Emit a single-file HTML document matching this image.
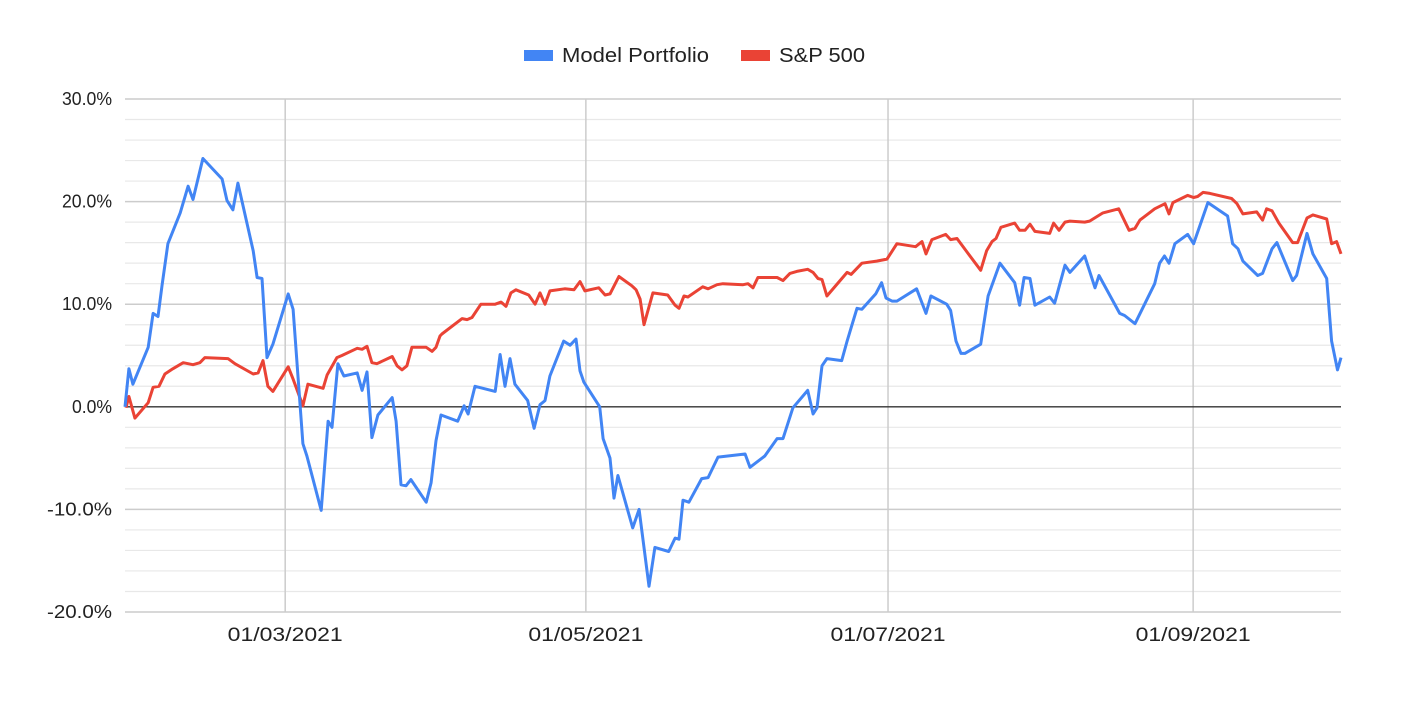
<!DOCTYPE html>
<html><head><meta charset="utf-8"><style>
html,body{margin:0;padding:0;background:#fff;}
svg{display:block;font-family:"Liberation Sans",Arial,sans-serif;}
</style></head><body>
<svg id="chart" width="1410" height="705" viewBox="0 0 1410 705">
<g id="grid"></g>
<g id="yaxis"></g>
<g id="xaxis"></g>
<g id="series"></g>
<g>
 <g>
  <rect x="524" y="50" width="29" height="11" fill="#4285f4"/>
  <text x="562" y="62" font-size="20" fill="#222" textLength="147" lengthAdjust="spacingAndGlyphs">Model Portfolio</text>
 </g>
 <g>
  <rect x="741" y="50" width="29" height="11" fill="#ea4335"/>
  <text x="779" y="62" font-size="20" fill="#222" textLength="86" lengthAdjust="spacingAndGlyphs">S&amp;P 500</text>
 </g>
</g>
</svg>
<script>
// Day offsets from 28/01/2021 and % returns
const modelDays=[0,0.8,1.6,4.7,5.7,6.7,7.5,8.7,11.2,12.8,13.8,15.8,19.7,20.7,21.9,22.9,26.0,26.8,27.8,28.8,30.0,33.1,34.1,36.1,36.9,39.8,41.2,42.0,43.2,44.4,47.1,48.1,49.1,50.1,51.3,54.2,55.0,56.0,57.0,58.0,61.1,62.1,63.1,64.1,67.5,68.8,69.6,71.0,75.1,76.1,77.1,78.1,79.1,81.7,83.0,84.2,85.2,86.2,89.0,90.3,91.5,92.3,93.1,96.3,97.0,98.4,99.2,100.0,103.0,104.3,106.3,107.5,110.3,111.6,112.4,113.2,114.4,117.0,118.3,120.3,125.8,126.8,129.8,132.3,133.5,135.5,138.5,139.6,140.4,141.4,142.4,145.4,146.5,147.3,148.5,149.5,152.3,153.5,154.4,155.6,156.6,160.6,162.5,163.5,166.7,167.5,168.6,169.6,170.4,173.6,175.1,177.5,180.5,181.5,182.4,183.6,184.6,187.6,188.6,190.7,191.7,194.7,196.8,197.6,201.8,202.8,204.9,208.9,209.9,210.9,211.8,213.0,215.6,216.8,219.7,223.7,224.7,225.8,226.8,229.8,230.8,232.7,233.7,236.9,237.7,239.8,241.0,243.8,244.8,246.0,246.7];
const modelValues=[0,3.7,2.2,5.8,9.1,8.8,11.8,15.9,18.9,21.5,20.2,24.2,22.2,20.1,19.2,21.8,15.2,12.6,12.5,4.8,6.1,11.0,9.5,-3.6,-4.8,-10.1,-1.4,-2.0,4.2,3.0,3.3,1.6,3.4,-3.0,-0.8,0.9,-1.4,-7.6,-7.7,-7.1,-9.3,-7.4,-3.3,-0.8,-1.4,0.1,-0.7,2.0,1.5,5.1,2.0,4.7,2.2,0.6,-2.1,0.2,0.6,3.0,6.4,6.0,6.6,3.5,2.4,0.0,-3.1,-5.0,-8.9,-6.7,-11.8,-10.0,-17.5,-13.7,-14.1,-12.8,-12.9,-9.1,-9.3,-7.0,-6.9,-4.9,-4.6,-5.9,-4.8,-3.1,-3.1,-0.1,1.6,-0.7,-0.1,4.0,4.7,4.5,6.4,7.7,9.6,9.5,11.0,12.1,10.6,10.3,10.3,11.5,9.1,10.8,10.0,9.4,6.4,5.2,5.2,6.1,10.8,14.0,12.1,9.9,12.6,12.5,9.9,10.7,10.1,13.8,13.1,14.7,11.6,12.8,9.1,8.9,8.1,12.0,14.0,14.7,14.0,15.9,16.8,15.9,19.9,18.6,15.9,15.4,14.2,12.8,13.0,15.4,16.0,12.3,12.8,16.9,14.9,12.5,6.4,3.6,4.8];
const spDays=[0.2,0.8,2.0,4.7,5.7,6.9,8.1,9.7,11.8,13.8,15.2,16.2,20.9,22.3,26.0,27.0,28.0,29.0,30.0,33.1,34.1,36.1,37.1,40.2,41.0,43.0,44.0,47.1,48.1,49.1,50.1,51.1,54.2,55.2,56.2,57.2,58.2,61.1,62.3,63.1,63.9,64.3,68.4,69.4,70.4,72.2,75.1,76.3,77.3,78.3,79.3,81.9,83.2,84.2,85.2,86.2,89.2,91.1,92.3,93.3,96.1,97.4,98.4,100.2,102.8,103.7,104.5,105.3,107.1,110.1,111.6,112.4,113.4,114.2,117.2,118.3,120.1,121.3,125.4,126.4,127.4,128.4,132.3,133.5,134.9,136.3,138.5,139.6,140.6,141.4,142.4,146.5,147.3,149.5,152.5,154.6,156.6,160.4,161.7,162.5,163.7,166.5,167.5,168.8,170.8,173.6,174.8,175.9,176.7,177.7,180.5,181.5,182.6,183.6,184.6,187.6,188.4,189.5,190.7,191.7,194.7,195.7,198.4,201.6,203.7,204.9,205.9,208.9,211.0,211.8,212.6,215.6,216.8,217.6,218.7,220.1,224.5,225.6,226.8,229.6,230.8,231.6,232.7,234.1,236.9,237.9,239.8,241.0,243.8,244.8,245.8,246.7];
const spValues=[-0.1,1.0,-1.1,0.4,1.9,2.0,3.2,3.7,4.3,4.1,4.3,4.8,4.7,4.2,3.2,3.3,4.5,2.0,1.5,3.9,2.7,0.1,2.2,1.8,3.1,4.8,5.0,5.7,5.6,5.9,4.3,4.2,4.9,4.0,3.6,4.0,5.8,5.8,5.4,5.8,6.9,7.1,8.6,8.5,8.7,10.0,10.0,10.2,9.8,11.1,11.4,10.9,10.0,11.1,10.0,11.3,11.5,11.4,12.2,11.3,11.6,10.9,11.0,12.7,11.8,11.4,10.5,8.0,11.1,10.9,9.9,9.6,10.8,10.7,11.7,11.5,11.9,12.0,11.9,12.0,11.6,12.6,12.6,12.3,13.0,13.2,13.4,13.1,12.5,12.4,10.8,13.1,12.9,14.0,14.2,14.4,15.9,15.6,16.1,14.9,16.3,16.8,16.3,16.4,15.1,13.3,15.2,16.1,16.4,17.5,17.9,17.2,17.2,17.8,17.1,16.9,17.9,17.2,18.0,18.1,18.0,18.1,18.9,19.3,17.2,17.4,18.2,19.3,19.8,18.8,19.9,20.6,20.4,20.5,20.9,20.8,20.3,19.8,18.8,19.0,18.2,19.3,19.1,17.9,16.0,16.0,18.4,18.7,18.3,15.9,16.1,14.9];
const yTicks=[30,20,10,0,-10,-20];
const yTickLabels=["30.0%","20.0%","10.0%","0.0%","-10.0%","-20.0%"];
const xTickDays=[32.5,93.5,154.8,216.7];
const xTickLabels=["01/03/2021","01/05/2021","01/07/2021","01/09/2021"];

const NS="http://www.w3.org/2000/svg";
const X0=125,X1=1341,DMAX=246.7;
const Y_TOP=99,Y_BOT=612,VMAX=30,VMIN=-20;
function xs(d){return X0+(d/DMAX)*(X1-X0);}
function ys(v){return Y_TOP+(VMAX-v)/(VMAX-VMIN)*(Y_BOT-Y_TOP);}
function mk(tag,attrs,parent){const e=document.createElementNS(NS,tag);for(const k in attrs)e.setAttribute(k,attrs[k]);parent.appendChild(e);return e;}

const grid=document.getElementById('grid');
for(let v=VMIN;v<=VMAX;v+=2){
  if(v===0)continue;
  const major=(v%10===0);
  const l=mk('line',{x1:X0,x2:X1,y1:ys(v),y2:ys(v),stroke:major?'#cccccc':'#e8e8e8','stroke-width':major?1.5:1.2},grid);
  
  
}
xTickDays.forEach(d=>{
  const l=mk('line',{x1:xs(d),x2:xs(d),y1:Y_TOP,y2:Y_BOT,stroke:'#cccccc','stroke-width':1.5},grid);
  
  
});
const zl=mk('line',{x1:X0,x2:X1,y1:ys(0),y2:ys(0),stroke:'#333','stroke-width':1.3},grid);



const ya=document.getElementById('yaxis');
yTicks.forEach((v,i)=>{
  const lab=yTickLabels[i];
  const w=10*lab.length+(lab[0]==='-'?5:0);
  const t=mk('text',{x:112,y:ys(v)+6,'text-anchor':'end','font-size':18,fill:'#222',textLength:w,lengthAdjust:'spacingAndGlyphs'},ya);
  t.textContent=lab;
  
  
});
const xa=document.getElementById('xaxis');
xTickDays.forEach((d,i)=>{
  const t=mk('text',{x:xs(d),y:641,'text-anchor':'middle','font-size':19,fill:'#222',textLength:115,lengthAdjust:'spacingAndGlyphs'},xa);
  t.textContent=xTickLabels[i];
  
  
});

const sg=document.getElementById('series');
function line(days,vals,color,name){
  const pts=days.map((d,i)=>xs(d).toFixed(1)+','+ys(vals[i]).toFixed(1)).join(' ');
  const p=mk('polyline',{points:pts,fill:'none',stroke:color,'stroke-width':3,'stroke-linejoin':'round'},sg);
  
  
}
line(spDays,spValues,'#ea4335','sp500-line');
line(modelDays,modelValues,'#4285f4','model-portfolio-line');
</script>
</body></html>
